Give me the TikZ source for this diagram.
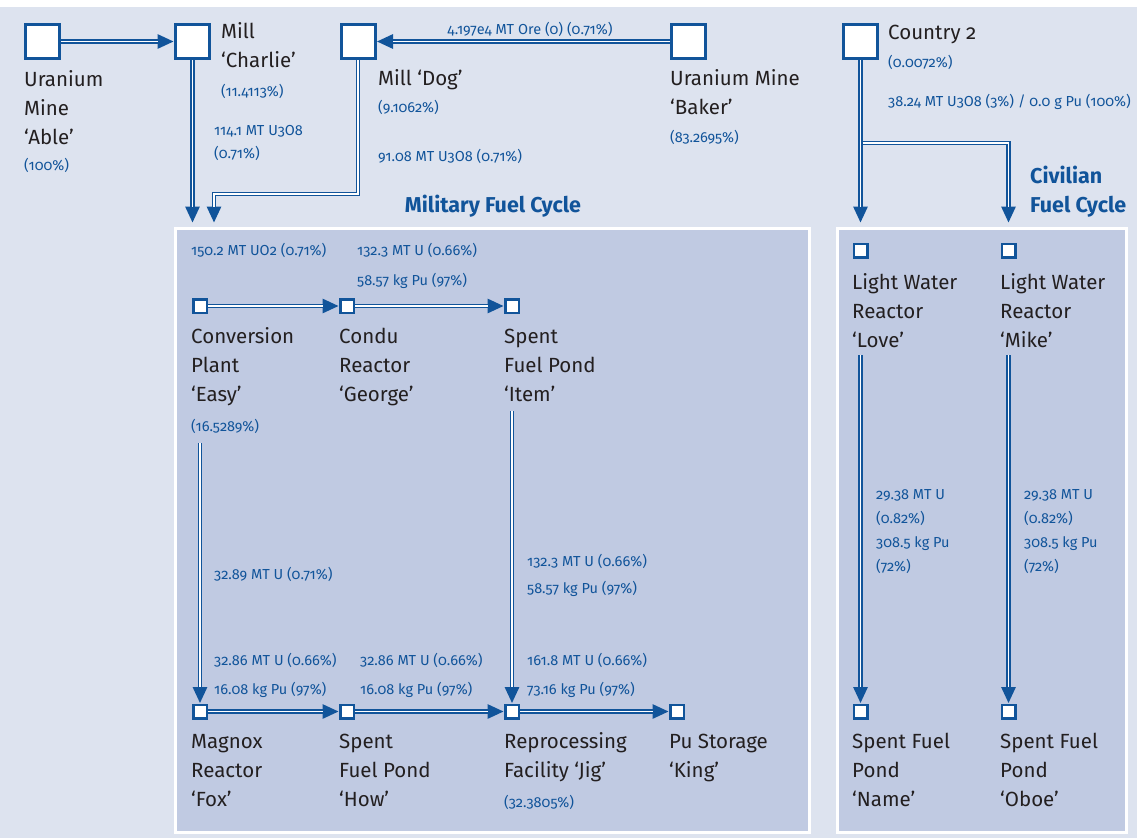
\documentclass[tikz,border=0pt]{standalone}
\usepackage{fontspec}
\setmainfont{Fira Sans}[Numbers=OldStyle]
\usetikzlibrary{arrows.meta}
\definecolor{bgc}{HTML}{DDE3EF}
\definecolor{panelc}{HTML}{C0CAE2}
\definecolor{fc}{HTML}{11549A}
\definecolor{ink}{HTML}{231F20}
\newcommand{\ml}[1]{\begin{tabular}[t]{@{}l@{}}#1\end{tabular}}
\tikzset{
  bigbox/.style={draw=fc, line width=3pt, fill=white, minimum size=34pt, inner sep=0pt, outer sep=1.5pt},
  smallbox/.style={draw=fc, line width=2.5pt, fill=white, minimum size=13.5pt, inner sep=0pt, outer sep=1.25pt},
  lbl/.style={text=ink, anchor=base west, inner sep=0pt, font=\fontsize{20.5}{29}\selectfont},
  num/.style={text=fc, anchor=base west, inner sep=0pt, font=\fontsize{14.5}{24}\selectfont},
  numsp/.style={font=\fontsize{14.5}{#1}\selectfont},
  title/.style={text=fc, inner sep=0pt, font=\bfseries\fontsize{21.5}{29}\selectfont},
  flow/.style={draw=fc, line width=4.5pt, -{Triangle[length=16.5pt,width=13.5pt]},
    postaction={draw=white, line width=1.1pt, -, shorten >=16.5pt}},
  panel/.style={draw=white, line width=3pt, fill=panelc}
}
\begin{document}
\begin{tikzpicture}[x=1pt, y=-1pt]
\useasboundingbox (0,0) rectangle (1137,838);
\fill[white] (0,0) rectangle (1137,838);
\fill[bgc] (0,7) rectangle (1137,838);
\draw[panel] (175.5,228.5) rectangle (809.5,832);
\draw[panel] (837.5,228.5) rectangle (1126,832);

% big nodes
\node[bigbox] (able) at (42.5,41.5) {};
\node[bigbox] (charlie) at (192.5,41.5) {};
\node[bigbox] (dog) at (358,41.5) {};
\node[bigbox] (baker) at (688.5,41.5) {};
\node[bigbox] (country) at (860.5,41.5) {};

% small nodes
\node[smallbox] (easy) at (200,306) {};
\node[smallbox] (george) at (347,306) {};
\node[smallbox] (item) at (512,306) {};
\node[smallbox] (fox) at (200,711.5) {};
\node[smallbox] (how) at (347,711.5) {};
\node[smallbox] (jig) at (512,711.5) {};
\node[smallbox] (king) at (677,711.5) {};
\node[smallbox] (love) at (860.5,250.5) {};
\node[smallbox] (mike) at (1008.5,250.5) {};
\node[smallbox] (name) at (860.5,711.5) {};
\node[smallbox] (oboe) at (1008.5,711.5) {};

% labels
\node[lbl] (ableL) at (24,86) {\ml{Uranium\\Mine\\‘Able’}};
\node[lbl] (charlieL) at (221,38) {\ml{Mill\\‘Charlie’}};
\node[lbl] (dogL) at (378,85) {Mill ‘Dog’};
\node[lbl] (bakerL) at (670,85) {\ml{Uranium Mine\\‘Baker’}};
\node[lbl] (countryL) at (888,39) {Country 2};
\node[lbl] (easyL) at (191,343) {\ml{Conversion\\Plant\\‘Easy’}};
\node[lbl] (georgeL) at (339,343) {\ml{Condu\\Reactor\\‘George’}};
\node[lbl] (itemL) at (504,343) {\ml{Spent\\Fuel Pond\\‘Item’}};
\node[lbl] (foxL) at (191,748) {\ml{Magnox\\Reactor\\‘Fox’}};
\node[lbl] (howL) at (339,748) {\ml{Spent\\Fuel Pond\\‘How’}};
\node[lbl] (jigL) at (504,748) {\ml{Reprocessing\\Facility ‘Jig’}};
\node[lbl] (kingL) at (669,748) {\ml{Pu Storage\\‘King’}};
\node[lbl] (loveL) at (852,289) {\ml{Light Water\\Reactor\\‘Love’}};
\node[lbl] (mikeL) at (1000,289) {\ml{Light Water\\Reactor\\‘Mike’}};
\node[lbl] (nameL) at (852,748) {\ml{Spent Fuel\\Pond\\‘Name’}};
\node[lbl] (oboeL) at (1000,748) {\ml{Spent Fuel\\Pond\\‘Oboe’}};

% percentages
\node[num] (ableP) at (24,170) {(100\%)};
\node[num] (charlieP) at (221,96) {(11.4113\%)};
\node[num] (dogP) at (378,112) {(9.1062\%)};
\node[num] (bakerP) at (670,142) {(83.2695\%)};
\node[num] (countryP) at (888,67) {(0.0072\%)};
\node[num] (easyP) at (191,431) {(16.5289\%)};
\node[num] (jigP) at (504,807) {(32.3805\%)};

% flow labels
\node[num, numsp=23] (f1) at (214,135) {\ml{114.1 MT U3O8\\(0.71\%)}};
\node[num] (f2) at (378,161) {91.08 MT U3O8 (0.71\%)};
\node[num, anchor=base] (f3) at (530,34) {4.197e4 MT Ore (0) (0.71\%)};
\node[num] (f4) at (888,106) {38.24 MT U3O8 (3\%) / 0.0 g Pu (100\%)};
\node[num] (f5) at (191,255) {150.2 MT UO2 (0.71\%)};
\node[num, numsp=30] (f6) at (357,255) {\ml{132.3 MT U (0.66\%)\\58.57 kg Pu (97\%)}};
\node[num] (f7) at (214,579) {32.89 MT U (0.71\%)};
\node[num, numsp=27] (f8) at (527,566) {\ml{132.3 MT U (0.66\%)\\58.57 kg Pu (97\%)}};
\node[num, numsp=29] (f9) at (214,665) {\ml{32.86 MT U (0.66\%)\\16.08 kg Pu (97\%)}};
\node[num, numsp=29] (f10) at (360,665) {\ml{32.86 MT U (0.66\%)\\16.08 kg Pu (97\%)}};
\node[num, numsp=29] (f11) at (527,665) {\ml{161.8 MT U (0.66\%)\\73.16 kg Pu (97\%)}};
\node[num] (f12) at (876,499) {\ml{29.38 MT U\\(0.82\%)\\308.5 kg Pu\\(72\%)}};
\node[num] (f13) at (1024,499) {\ml{29.38 MT U\\(0.82\%)\\308.5 kg Pu\\(72\%)}};

% titles
\node[title, anchor=base] (milT) at (493,212) {Military Fuel Cycle};
\node[title, anchor=base west] (civT) at (1030,183) {\ml{Civilian\\Fuel Cycle}};

% coordinates
\coordinate (charlieIn) at (192.5,223);
\coordinate (dogIn) at (214,223);
\coordinate (loveIn) at (860.5,223);
\coordinate (mikeIn) at (1008.5,223);
\coordinate (easyOut) at (200,443);
\coordinate (itemOut) at (512,411);
\coordinate (loveOut) at (860.5,355);
\coordinate (mikeOut) at (1008.5,355);

% connectors
\draw[flow] (able) -- (charlie);
\draw[flow] (baker) -- (dog);
\draw[flow] (charlie) -- (charlieIn);
\draw[flow] (dog.south) |- ([yshift=29pt]dogIn) -- (dogIn);
\draw[flow] (country.south) |- ([yshift=80pt]mikeIn) -- (mikeIn);
\draw[flow] (country) -- (loveIn);
\draw[flow] (easy) -- (george);
\draw[flow] (george) -- (item);
\draw[flow] (fox) -- (how);
\draw[flow] (how) -- (jig);
\draw[flow] (jig) -- (king);
\draw[flow] (easyOut) -- (fox);
\draw[flow] (itemOut) -- (jig);
\draw[flow] (loveOut) -- (name);
\draw[flow] (mikeOut) -- (oboe);
\end{tikzpicture}
\end{document}
